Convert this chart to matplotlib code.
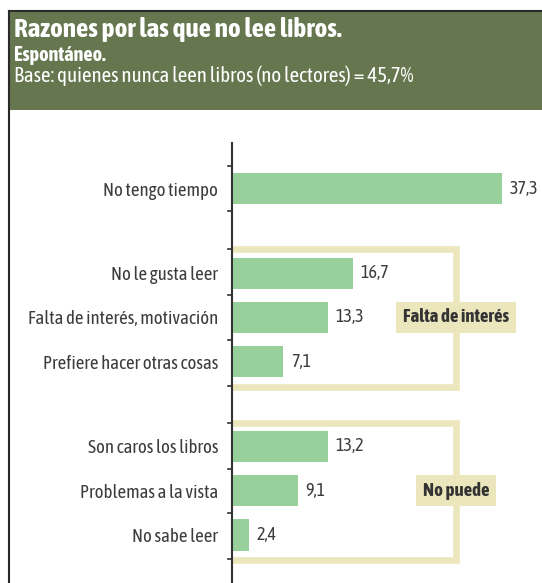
import matplotlib
matplotlib.use("Agg")
import matplotlib.pyplot as plt
from matplotlib import font_manager as fm
from matplotlib import patheffects as pe
from matplotlib.patches import Rectangle
from matplotlib.lines import Line2D

# data
categories = ["No tengo tiempo",
              "No le gusta leer", "Falta de interés, motivación", "Prefiere hacer otras cosas",
              "Son caros los libros", "Problemas a la vista", "No sabe leer"]
values = [37.3, 16.7, 13.3, 7.1, 13.2, 9.1, 2.4]
group_sizes = [1, 3, 3]
group_labels = [None, "Falta de interés", "No puede"]

title = "Razones por las que no lee libros."
subtitle = "Espontáneo."
base_note = "Base: quienes nunca leen libros (no lectores) = 45,7%"

# pick a narrow font if one is installed, prefer one with a bold face
narrow, has_bold = None, False
cands = {}
for f in fm.fontManager.ttflist:
    if "Narrow" in f.name or "Condensed" in f.name:
        w = f.weight if isinstance(f.weight, int) else (700 if f.weight == "bold" else 400)
        cands.setdefault(f.name, set()).add(w)
for name, weights in cands.items():
    if narrow is None or (not has_bold and max(weights) >= 600):
        narrow, has_bold = name, max(weights) >= 600
FAM = [narrow, "DejaVu Sans"] if narrow else ["DejaVu Sans"]
plt.rcParams["font.family"] = FAM


def bold_kw(color):
    # real bold if the narrow family has it, otherwise thicken with a stroke
    if has_bold or narrow is None:
        return dict(fontweight="bold")
    return dict(path_effects=[pe.withStroke(linewidth=0.9, foreground=color)])


GREEN_HDR = "#66774f"
BAR = "#97d09b"
YEL = "#ece6bd"
TXT = "#3c3c3c"

# positions: groups separated by a gap
gap = 0.92
pos = []
y = 0.0
for gi, n in enumerate(group_sizes):
    if gi > 0:
        y += gap
    for k in range(n):
        pos.append(y)
        y += 1

W, H = 542, 583
fig = plt.figure(figsize=(W / 100, H / 100), dpi=100)

# header
fig.patches.append(Rectangle((9 / W, 1 - 110 / H), 1 - 9 / W, 99 / H, transform=fig.transFigure,
                             facecolor=GREEN_HDR, edgecolor="none", zorder=0))
fig.add_artist(Line2D([9 / W, 1], [1 - 11 / H, 1 - 11 / H], color="#2a2a2a", lw=1.5))
fig.add_artist(Line2D([9 / W, 9 / W], [0, 1 - 11 / H], color="#2a2a2a", lw=1.5))
fig.text(14 / W, 1 - 37.5 / H, title, color="white", fontsize=19.5, va="baseline", **bold_kw("white"))
fig.text(14 / W, 1 - 61 / H, subtitle, color="white", fontsize=14.5, va="baseline", **bold_kw("white"))
fig.text(14 / W, 1 - 82 / H, base_note, color="white", fontsize=15, va="baseline")

ax = fig.add_axes([232 / W, 0, 1 - 232 / W, (H - 143) / H])
ax.barh(pos, values, height=0.715, color=BAR, zorder=2)
ax.set_xlim(0, 310 / 7.25)
ax.set_ylim(8.93, -1.03)

for p, v in zip(pos, values):
    ax.text(v + 1.0, p, f"{v:.1f}".replace(".", ","), va="center", ha="left",
            fontsize=13, color=TXT)

ax.set_yticks(pos)
ax.set_yticklabels(categories, fontsize=13.5, color=TXT)
ax.tick_params(axis="y", length=0, pad=10)

# boundary ticks
ticks = []
start = 0
for n in group_sizes:
    grp = pos[start:start + n]
    edge = 0.5 if n == 1 else 0.54
    ticks.append(grp[0] - edge)
    for a, b in zip(grp[:-1], grp[1:]):
        ticks.append((a + b) / 2)
    ticks.append(grp[-1] + edge)
    start += n
for t in ticks:
    ax.plot([-0.55, 0], [t, t], color="#333333", lw=1.2, clip_on=False, zorder=5)

# brackets
bx = 30.9
start = 0
for n, lab in zip(group_sizes, group_labels):
    grp = pos[start:start + n]
    start += n
    if lab is None:
        continue
    top, bot = grp[0] - 0.54, grp[-1] + 0.58
    ax.plot([0, bx, bx, 0], [top, top, bot, bot], color=YEL, lw=4.8, zorder=1,
            solid_joinstyle="miter")
    mid = grp[len(grp) // 2]
    ax.text(bx, mid, lab, ha="center", va="center", fontsize=13.5, color="#333333", zorder=4,
            bbox=dict(boxstyle="square,pad=0.35", facecolor=YEL, edgecolor="none"),
            **bold_kw("#333333"))

for s in ["top", "right", "bottom"]:
    ax.spines[s].set_visible(False)
ax.spines["left"].set_color("#333333")
ax.spines["left"].set_linewidth(1.5)
ax.set_xticks([])
ax.patch.set_alpha(0)

fig.savefig("out.png", dpi=100)
